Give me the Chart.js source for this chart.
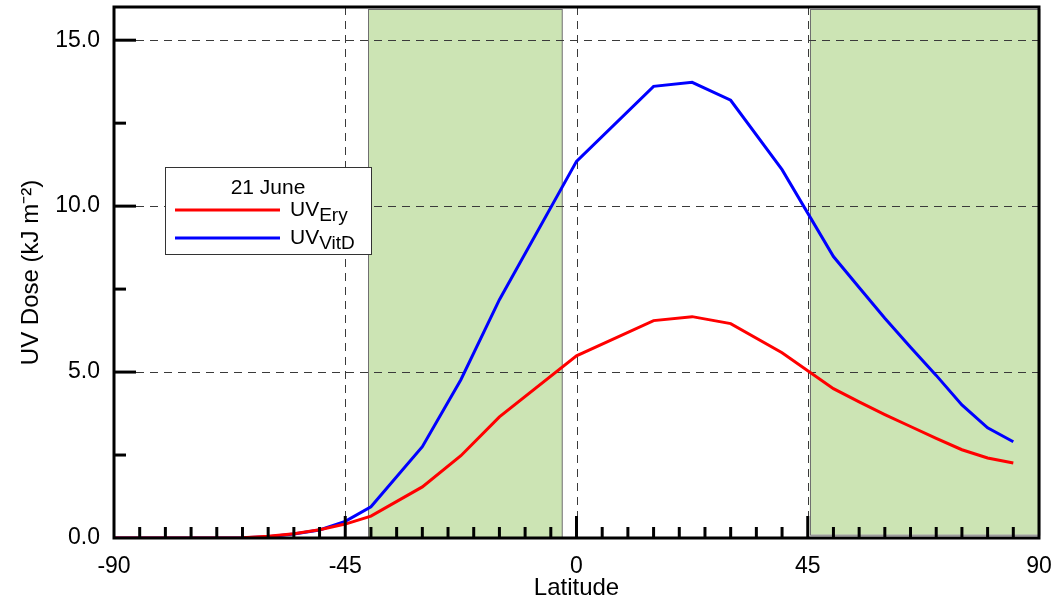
<!DOCTYPE html>
<html>
<head>
<meta charset="utf-8">
<script src="https://cdn.jsdelivr.net/npm/chart.js@4.4.1/dist/chart.umd.min.js"></script>
<style>
  html, body { margin: 0; padding: 0; background: #fff; }
</style>
</head>
<body>
<canvas id="uvChart" width="1056" height="604"></canvas>
<script>
/* ---------- data ---------- */

const latitudes = [-90, -85, -80, -75, -70, -65, -60, -55, -50, -45, -40, -30, -22.5, -15,
                   0, 15, 22.5, 30, 40, 50, 55, 60, 65, 70, 75, 80, 85];

const uvEry  = [0, 0, 0, 0, 0, 0.01, 0.05, 0.13, 0.25, 0.42, 0.66, 1.54, 2.48, 3.65,
                5.49, 6.55, 6.67, 6.46, 5.58, 4.5, 4.1, 3.72, 3.36, 3.0, 2.66, 2.41, 2.26];

const uvVitD = [0, 0, 0, 0, 0, 0.01, 0.04, 0.12, 0.24, 0.5, 0.94, 2.75, 4.77, 7.18,
                11.35, 13.61, 13.73, 13.19, 11.1, 8.48, 7.55, 6.62, 5.75, 4.9, 4.01, 3.32, 2.9];

// shaded latitude bands [from, to] and their lower edge in dose units
const bandFrom = [-40.5, 45.4];
const bandTo   = [-2.8, 90];
const bandLow  = [0, 0.1];

const xTicks = [-90, -45, 0, 45, 90];
const yTicks = [0, 5, 10, 15];
const xMinorStep = 5;
const yMinorStep = 2.5;

const legendTitle = "21 June";
const seriesMain = ["UV", "UV"];
const seriesSub  = ["Ery", "VitD"];

/* ---------- helpers ---------- */

const FONT = "'Liberation Sans', Arial, sans-serif";
Chart.defaults.font.family = FONT;
Chart.defaults.color = "#000";

function points(xs, ys) {
  return xs.map((x, i) => ({ x: x, y: ys[i] }));
}

// keep the plot box exactly where the axes say, no auto label padding
function noPad(s) {
  s.paddingTop = 0;
  s.paddingBottom = 0;
  s.paddingLeft = 0;
  s.paddingRight = 0;
}

/* bands + dashed grid behind the lines */
const backdropPlugin = {
  id: "backdrop",
  beforeDatasetsDraw(chart) {
    const { ctx, chartArea: a, scales: { x, y } } = chart;
    ctx.save();

    // green bands
    for (let i = 0; i < bandFrom.length; i++) {
      const x0 = x.getPixelForValue(bandFrom[i]);
      const x1 = x.getPixelForValue(bandTo[i]);
      const y0 = y.getPixelForValue(bandLow[i]);
      ctx.fillStyle = "#cce4b4";
      ctx.fillRect(x0, a.top + 2, x1 - x0, y0 - a.top - 2);
      ctx.strokeStyle = "#6f6f6f";
      ctx.lineWidth = 1;
      ctx.strokeRect(Math.round(x0) + 0.5, a.top + 2.5, x1 - x0, y0 - a.top - 2);
    }

    // dashed grid
    ctx.setLineDash([8, 6]);
    ctx.lineWidth = 1;
    ctx.strokeStyle = "#3a3a3a";
    yTicks.slice(1).forEach(v => {
      const py = Math.round(y.getPixelForValue(v)) + 0.5;
      ctx.beginPath();
      ctx.moveTo(a.left + 22, py);
      ctx.lineTo(a.right, py);
      ctx.stroke();
    });
    xTicks.slice(1, -1).forEach(v => {
      const px = Math.round(x.getPixelForValue(v)) + 0.5;
      ctx.beginPath();
      ctx.moveTo(px, a.top);
      ctx.lineTo(px, a.bottom - 22);
      ctx.stroke();
    });
    ctx.restore();
  }
};

/* frame, inward ticks and legend box on top */
const framePlugin = {
  id: "frame",
  afterDraw(chart) {
    const { ctx, chartArea: a, scales: { x, y } } = chart;
    ctx.save();
    ctx.strokeStyle = "#000";
    ctx.lineWidth = 3;
    ctx.strokeRect(a.left, a.top, a.right - a.left, a.bottom - a.top);

    // x ticks pointing up
    for (let v = x.min + xMinorStep; v < x.max; v += xMinorStep) {
      const px = x.getPixelForValue(v);
      const len = xTicks.includes(v) ? 22 : 11;
      ctx.beginPath();
      ctx.moveTo(px, a.bottom);
      ctx.lineTo(px, a.bottom - len);
      ctx.stroke();
    }
    // y ticks pointing right
    for (let v = y.min + yMinorStep; v < y.max; v += yMinorStep) {
      const py = y.getPixelForValue(v);
      const len = yTicks.includes(v) ? 22 : 12;
      ctx.beginPath();
      ctx.moveTo(a.left, py);
      ctx.lineTo(a.left + len, py);
      ctx.stroke();
    }

    // legend
    const bx = 165, by = 167, bw = 206, bh = 87;
    ctx.fillStyle = "#fff";
    ctx.fillRect(bx, by, bw, bh);
    ctx.lineWidth = 1;
    ctx.strokeStyle = "#333";
    ctx.strokeRect(bx + 0.5, by + 0.5, bw, bh);

    ctx.fillStyle = "#000";
    ctx.font = "21px " + FONT;
    ctx.textAlign = "center";
    ctx.textBaseline = "alphabetic";
    ctx.fillText(legendTitle, 268, 194);

    chart.data.datasets.forEach((ds, i) => {
      const ly = 210 + i * 28;
      ctx.strokeStyle = ds.borderColor;
      ctx.lineWidth = 3;
      ctx.beginPath();
      ctx.moveTo(175, ly);
      ctx.lineTo(280, ly);
      ctx.stroke();

      ctx.fillStyle = "#000";
      ctx.textAlign = "left";
      ctx.font = "21px " + FONT;
      ctx.fillText(seriesMain[i], 290, ly + 6);
      const w = ctx.measureText(seriesMain[i]).width;
      ctx.font = "19px " + FONT;
      ctx.fillText(seriesSub[i], 290 + w, ly + 11);
    });
    ctx.restore();
  }
};

/* ---------- chart ---------- */

new Chart(document.getElementById("uvChart"), {
  type: "line",
  data: {
    datasets: [
      {
        label: "UVEry",
        data: points(latitudes, uvEry),
        borderColor: "#ff0000",
        borderWidth: 3,
        pointRadius: 0,
        tension: 0,
        fill: false
      },
      {
        label: "UVVitD",
        data: points(latitudes, uvVitD),
        borderColor: "#0000ff",
        borderWidth: 3,
        pointRadius: 0,
        tension: 0,
        fill: false
      }
    ]
  },
  options: {
    responsive: false,
    animation: false,
    layout: { padding: { top: 7, right: 17, left: 0, bottom: 0 } },
    plugins: {
      legend: { display: false },
      tooltip: { enabled: false }
    },
    scales: {
      x: {
        type: "linear",
        min: -90,
        max: 90,
        afterBuildTicks: s => { s.ticks = xTicks.map(v => ({ value: v })); },
        afterFit: s => { s.height = 66; noPad(s); },
        ticks: { padding: 15, maxRotation: 0, font: { size: 23 } },
        grid: { display: false, drawTicks: false },
        border: { display: false },
        title: { display: true, text: "Latitude", font: { size: 24 }, padding: { top: 0, bottom: 1 } }
      },
      y: {
        min: 0,
        max: 16,
        afterBuildTicks: s => { s.ticks = yTicks.map(v => ({ value: v })); },
        afterFit: s => { s.width = 114; noPad(s); },
        ticks: { padding: 14, font: { size: 23 }, callback: v => v.toFixed(1) },
        grid: { display: false, drawTicks: false },
        border: { display: false },
        title: { display: true, text: "UV Dose (kJ m⁻²)", font: { size: 24 }, padding: { top: 17, bottom: 0 } }
      }
    }
  },
  plugins: [backdropPlugin, framePlugin]
});
</script>
</body>
</html>
